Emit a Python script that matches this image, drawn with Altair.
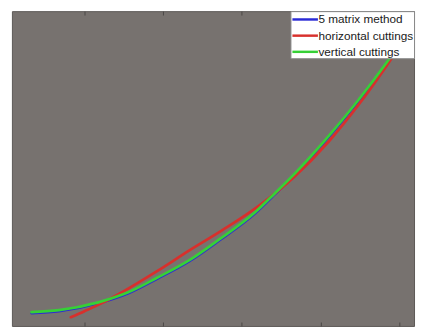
import altair as alt
import pandas as pd

series_names = ["5 matrix method", "horizontal cuttings", "vertical cuttings"]
series_colors = ["#2b2bd6", "#d8302c", "#36d036"]

# 5 matrix method
blue_x = [0.327, 0.676, 1.174, 1.548, 1.922, 2.333, 2.707, 3.168, 3.417, 3.667, 4.128, 4.477, 4.850, 4.938]
blue_y = [0.041, 0.047, 0.072, 0.103, 0.150, 0.206, 0.271, 0.358, 0.418, 0.480, 0.608, 0.714, 0.838, 0.869]

# horizontal cuttings
red_x = [0.826, 1.000, 1.174, 1.511, 1.922, 2.333, 2.757, 3.206, 3.667, 4.103, 4.477, 4.826, 4.913]
red_y = [0.028, 0.047, 0.067, 0.112, 0.174, 0.240, 0.305, 0.380, 0.474, 0.586, 0.701, 0.822, 0.854]

# vertical cuttings
green_x = [0.327, 0.676, 1.174, 1.548, 1.922, 2.333, 2.707, 3.168, 3.417, 3.667, 4.128, 4.477, 4.850, 4.938]
green_y = [0.044, 0.050, 0.075, 0.106, 0.153, 0.209, 0.274, 0.361, 0.421, 0.483, 0.611, 0.717, 0.841, 0.872]

x_ticks = [1, 2, 3, 4, 5]
x_domain = [0.078, 5.187]
y_domain = [0.0, 1.0]

rows = []
for name, xs, ys in [(series_names[0], blue_x, blue_y),
                     (series_names[1], red_x, red_y),
                     (series_names[2], green_x, green_y)]:
    for i, (xv, yv) in enumerate(zip(xs, ys)):
        rows.append({"series": name, "x": xv, "y": yv, "i": i})
df = pd.DataFrame(rows)

xscale = alt.Scale(domain=x_domain, nice=False, zero=False)
yscale = alt.Scale(domain=y_domain, nice=False, zero=False)

lines = alt.Chart(df).mark_line(strokeWidth=2.8, interpolate="monotone", clip=True,
                                strokeCap="round").encode(
    x=alt.X("x:Q", scale=xscale,
            axis=alt.Axis(orient="bottom", values=x_ticks, labels=False, title=None,
                          domain=False, grid=False, ticks=True, tickSize=4,
                          tickColor="#4a4745", offset=-4)),
    y=alt.Y("y:Q", scale=yscale, axis=None),
    color=alt.Color("series:N",
                    scale=alt.Scale(domain=series_names, range=series_colors),
                    legend=alt.Legend(title=None, orient="top-right", offset=0,
                                      symbolType="M-1,0H3", symbolSize=169,
                                      symbolStrokeWidth=2.5, labelFontSize=12,
                                      labelFont="Liberation Sans", labelColor="#1a1a1a",
                                      labelOffset=12, rowPadding=2.5, padding=0.5,
                                      fillColor="white", strokeColor="#8a8a8a",
                                      cornerRadius=0)),
    order="i:Q",
)

top_ticks = alt.Chart(df).mark_line(opacity=0).encode(
    x=alt.X("x:Q", scale=xscale,
            axis=alt.Axis(orient="top", values=x_ticks, labels=False, title=None,
                          domain=False, grid=False, ticks=True, tickSize=4,
                          tickColor="#4a4745", offset=-4)),
    y=alt.Y("y:Q", scale=yscale, axis=None),
    detail="series:N",
)

chart = alt.layer(lines, top_ticks).resolve_axis(x="independent").properties(
    width=410, height=321,
    padding={"left": 4, "top": 0, "right": 2, "bottom": 5},
    autosize=alt.AutoSizeParams(type="none"),
    background="white",
).configure_view(fill="#77726f", stroke="#5c5856", strokeWidth=1)

chart.save("out.html", embed_options={"renderer": "svg", "actions": False})
